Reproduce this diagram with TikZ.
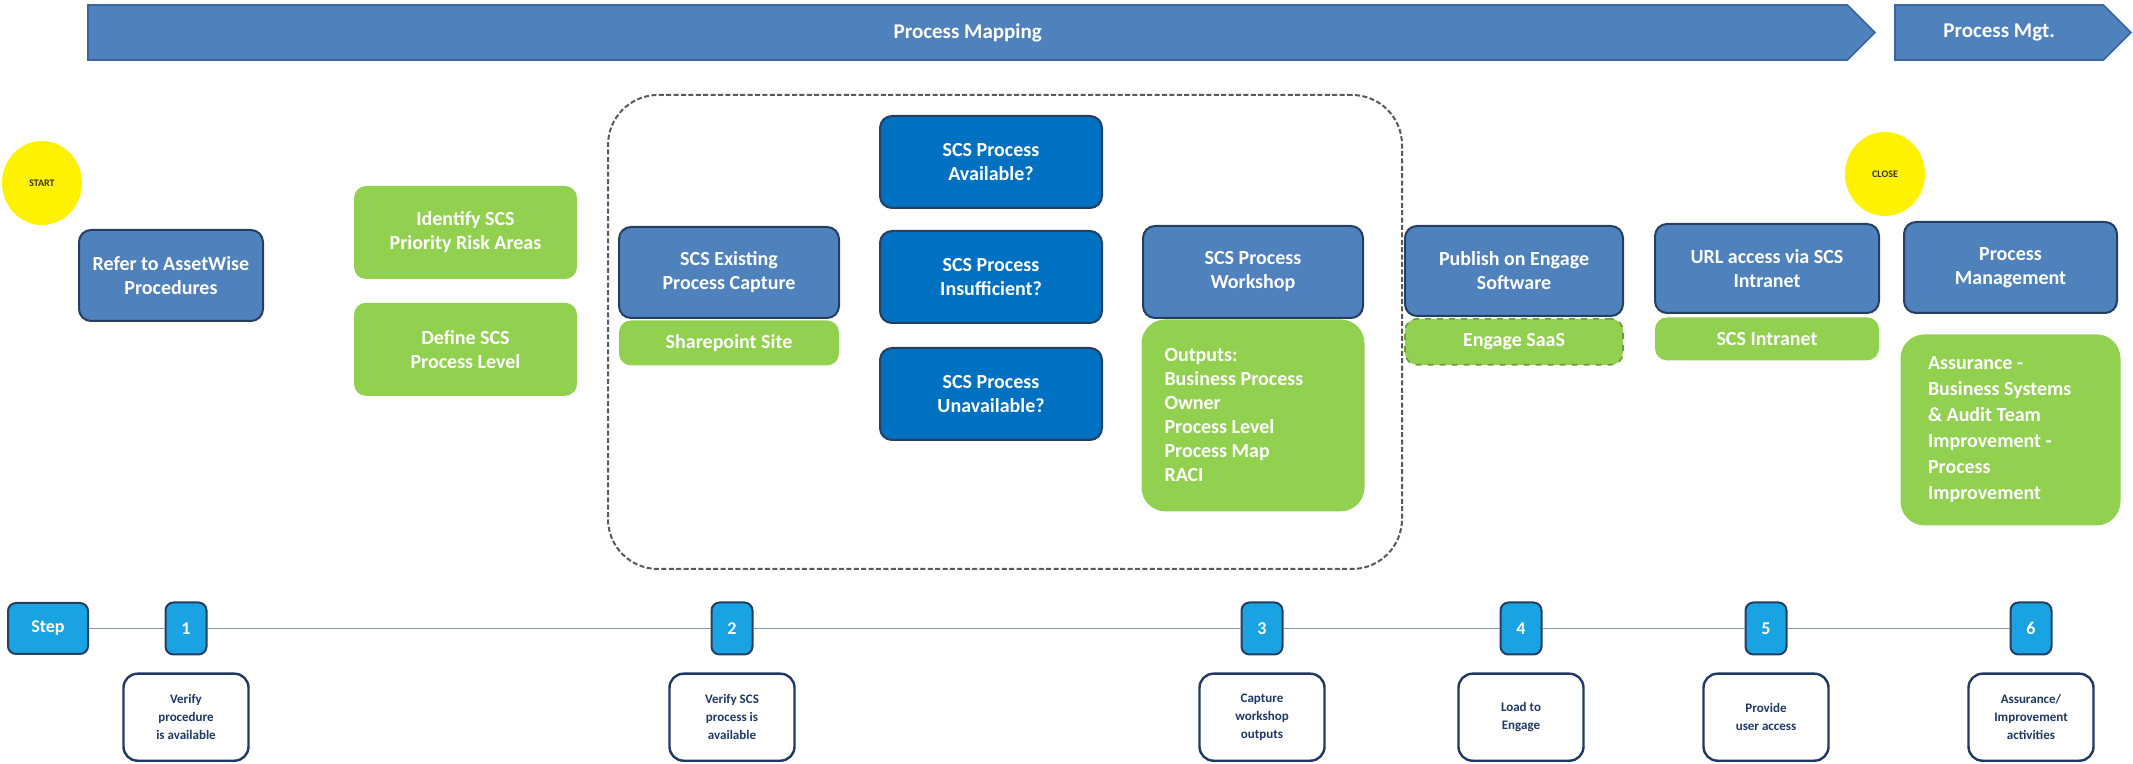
\documentclass[tikz,border=0pt]{standalone}
\usepackage{fontspec}
\setmainfont{Carlito}
\usetikzlibrary{positioning,shapes.symbols,shapes.geometric}

\definecolor{hdrblue}{HTML}{4F81BD}
\definecolor{hdredge}{HTML}{3C679C}
\definecolor{navyedge}{HTML}{243F60}
\definecolor{deepblue}{HTML}{0070C0}
\definecolor{leafgreen}{HTML}{92D050}
\definecolor{skyblue}{HTML}{1AA3E2}
\definecolor{inkblue}{HTML}{1F3864}
\definecolor{railgray}{HTML}{8496B0}

\begin{document}
\begin{tikzpicture}[
  x=0.5pt, y=-0.5pt,
  txt/.style={font=\bfseries\fontsize{10}{12}\selectfont, text=white, align=center, inner sep=2pt},
  phase/.style={txt, shape=signal, signal to=east, signal pointer angle=90, fill=hdrblue, draw=hdredge, line width=0.8pt, minimum height=27.5pt, font=\bfseries\fontsize{10.5}{12}\selectfont},
  blubox/.style={txt, draw=navyedge, line width=1pt, rounded corners=6pt, fill=hdrblue, minimum width=110pt, minimum height=45.5pt},
  deepbox/.style={blubox, fill=deepblue, minimum width=111pt, minimum height=46pt},
  grnbox/.style={txt, fill=leafgreen, rounded corners=6pt, minimum width=110pt, minimum height=22.5pt},
  listbox/.style={grnbox, align=flush left, inner xsep=11.5pt, rounded corners=12pt},
  sun/.style={ellipse, fill=yellow, minimum width=40pt, minimum height=42pt, inner sep=0pt, font=\bfseries\fontsize{5}{6}\selectfont, text=black!80!olive},
  stepnum/.style={txt, fill=skyblue, draw=navyedge, line width=1pt, rounded corners=4pt, minimum width=20.5pt, minimum height=26pt, font=\bfseries\fontsize{9}{10}\selectfont},
  stepdesc/.style={draw=inkblue, line width=1.2pt, rounded corners=7pt, fill=white, text=inkblue, align=center, minimum width=62.5pt, minimum height=43.5pt, inner sep=1pt, font=\bfseries\fontsize{6.5}{9}\selectfont},
  rail/.style={draw=railgray, line width=0.9pt}
]
\useasboundingbox (0,0) rectangle (2133,764);

% phase banners
\node[phase, minimum width=893.5pt] (pmap) at (967.75,32.5) {Process Mapping};
\node[phase, minimum width=118pt] (pmgt) at (1999.25,32.5) {Process Mgt.};

% start / close
\node[sun] (start) at (42,183) {START};
\node[sun] (close) at (1885,174) {CLOSE};

\node[blubox, minimum width=92pt] (refer) at (171,275.5) {Refer to AssetWise\\Procedures};

\node[grnbox, minimum width=111.5pt, minimum height=46.5pt] (ident) at (465.5,232.5) {Identify SCS\\Priority Risk Areas};
\node[grnbox, minimum width=111.5pt, minimum height=46.5pt, below=11.5pt of ident] (deflvl) {Define SCS\\Process Level};

% dashed group round the capture / workshop stage
\node[draw=black!65, dashed, dash pattern=on 2.5pt off 1.2pt, line width=1pt, rounded corners=25pt,
      minimum width=397pt, minimum height=237pt] (group) at (1005,332) {};

\node[blubox] (exist) at (729,272.5) {SCS Existing\\Process Capture};
\node[grnbox, below=0.5pt of exist] (share) {Sharepoint Site};

\node[deepbox] (avail) at (991,162) {SCS Process\\Available?};
\node[deepbox, below=10.5pt of avail] (insuf) {SCS Process\\Insufficient?};
\node[deepbox, below=11.5pt of insuf] (unav) {SCS Process\\Unavailable?};

\node[blubox, minimum height=46pt] (wshop) at (1253,272) {SCS Process\\Workshop};
\node[listbox, text width=88.5pt, minimum height=96pt, below=0pt of wshop] (outs)
  {Outputs:\\Business Process\\Owner\\Process Level\\Process Map\\RACI};

\node[blubox, minimum width=109pt, minimum height=45pt] (publ) at (1514,271) {Publish on Engage\\Software};
\node[grnbox, minimum width=109pt, minimum height=23pt, draw=leafgreen!75!black, dashed, line width=0.8pt, below=0.5pt of publ] (saas) {Engage SaaS};

\node[blubox, minimum width=112pt, minimum height=44.5pt] (url) at (1767,268.5) {URL access via SCS\\Intranet};
\node[grnbox, minimum width=112pt, minimum height=21.5pt, below=1.5pt of url] (intra) {SCS Intranet};

\node[blubox, minimum width=106.5pt] (pmgmt) at (2010.5,267.5) {Process\\Management};
\node[listbox, text width=82.5pt, minimum height=95.5pt, font=\bfseries\fontsize{10}{13}\selectfont, below=10pt of pmgmt] (assur)
  {Assurance -\\Business Systems\\\& Audit Team\\Improvement -\\Process\\Improvement};

% step rail
\node[stepnum, minimum width=40pt, minimum height=25.5pt] (stp) at (48,628.5) {Step};
\node[stepnum] (n1) at (186,628.5) {1};
\node[stepnum] (n2) at (732,628.5) {2};
\node[stepnum] (n3) at (1262,628.5) {3};
\node[stepnum] (n4) at (1521,628.5) {4};
\node[stepnum] (n5) at (1766,628.5) {5};
\node[stepnum] (n6) at (2031,628.5) {6};
\path[rail] (stp) -- (n1) -- (n2) -- (n3) -- (n4) -- (n5) -- (n6);

\node[stepdesc, below=8.5pt of n1] (d1) {Verify\\procedure\\is available};
\node[stepdesc, below=8.5pt of n2] (d2) {Verify SCS\\process is\\available};
\node[stepdesc, below=8.5pt of n3] (d3) {Capture\\workshop\\outputs};
\node[stepdesc, below=8.5pt of n4] (d4) {Load to\\Engage};
\node[stepdesc, below=8.5pt of n5] (d5) {Provide\\user access};
\node[stepdesc, below=8.5pt of n6] (d6) {Assurance/\\Improvement\\activities};
\end{tikzpicture}
\end{document}
